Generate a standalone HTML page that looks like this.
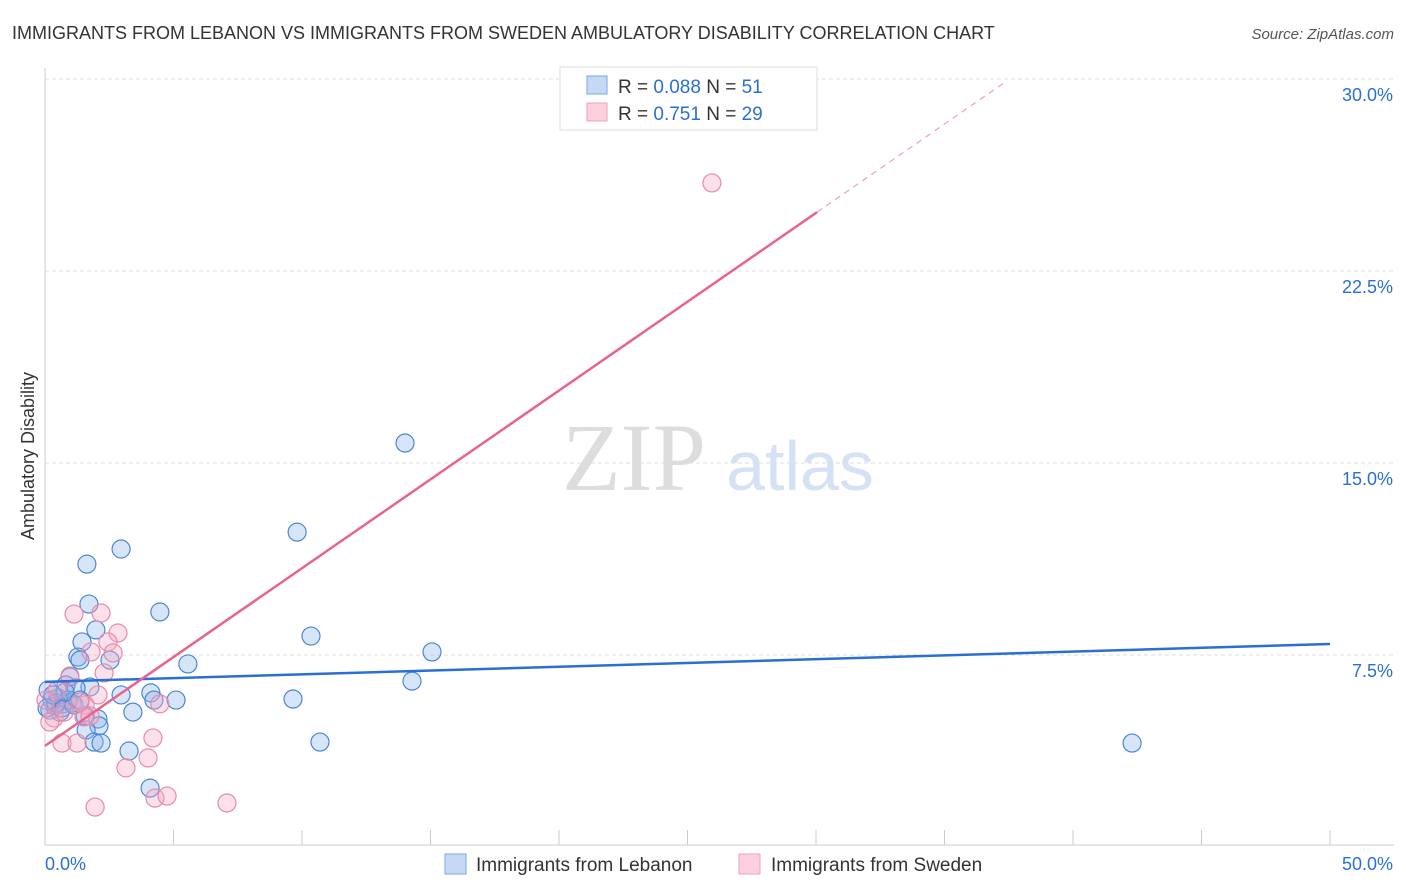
<!DOCTYPE html>
<html><head><meta charset="utf-8"><style>
body{margin:0;background:#fff;font-family:"Liberation Sans",sans-serif}
svg{display:block}
</style></head><body>
<svg id="chart" width="1406" height="892" xmlns="http://www.w3.org/2000/svg">
<text x="12" y="39" font-size="18" fill="#333">IMMIGRANTS FROM LEBANON VS IMMIGRANTS FROM SWEDEN AMBULATORY DISABILITY CORRELATION CHART</text>
<text x="1394" y="39" font-size="15" fill="#555" text-anchor="end" font-style="italic">Source: ZipAtlas.com</text>
<text x="634" y="490" font-size="96" fill="#ddd" font-family="Liberation Serif,serif" text-anchor="middle">ZIP</text>
<text x="800" y="490" font-size="70" fill="#d5e2f5" text-anchor="middle">atlas</text>
<text transform="translate(34,456) rotate(-90)" font-size="18" fill="#333" text-anchor="middle">Ambulatory Disability</text>
<g id="grid"></g><g id="axes"></g><g id="pts"></g><g id="lines"></g>
<g>
<rect x="560" y="67" width="257" height="63" fill="#fff" stroke="#ddd"/>
<rect x="587" y="76" width="20" height="18" fill="#c5d9f5" stroke="#7aa6e6"/>
<rect x="587" y="103" width="20" height="18" fill="#fbd0dc" stroke="#f0a0b8"/>
<text x="618" y="93" font-size="19" fill="#333">R = <tspan fill="#2a6fd6">0.088</tspan>    N = <tspan fill="#2a6fd6">51</tspan></text>
<text x="618" y="120" font-size="19" fill="#333">R =  <tspan fill="#2a6fd6">0.751</tspan>    N = <tspan fill="#2a6fd6">29</tspan></text>
</g>
<g>
<rect x="445" y="854" width="21" height="20" fill="#c5d9f5" stroke="#7aa6e6"/>
<text x="476" y="871" font-size="19" fill="#333">Immigrants from Lebanon</text>
<rect x="739" y="854" width="21" height="20" fill="#fbd0dc" stroke="#f0a0b8"/>
<text x="771" y="871" font-size="19" fill="#333">Immigrants from Sweden</text>
</g>
</svg>
<script>
const yTicks=[7.5,15,22.5,30];
const yTickLabels=["7.5%","15.0%","22.5%","30.0%"];
const xTickCount=10;
const xLabels=["0.0%","50.0%"];
const blueX=[2.96,1.63,1.71,4.47,1.98,1.44,1.28,1.36,2.53,5.56,0.97,0.82,1.75,2.96,4.12,4.24,5.10,3.42,2.06,2.10,1.60,1.91,2.18,3.27,4.09,0.27,0.39,0.58,0.19,0.70,1.05,0.51,0.12,1.21,14.01,9.81,10.35,15.06,14.28,9.65,10.70,42.30,0.89,0.66,1.13,1.56,0.43,0.08,0.78,0.31,1.36];
const blueY=[11.64,11.05,9.49,9.18,8.48,8.01,7.42,7.30,7.30,7.15,6.64,6.33,6.25,5.94,6.02,5.74,5.74,5.27,5.00,4.73,4.57,4.10,4.06,3.75,2.30,5.74,5.51,5.27,5.35,5.59,5.62,5.82,6.13,6.21,15.78,12.30,8.24,7.62,6.48,5.78,4.10,4.06,5.74,5.43,5.55,5.12,5.62,5.43,6.05,5.94,5.74];
const pinkX=[25.95,1.13,2.18,2.84,2.45,1.79,2.65,2.30,0.97,2.06,1.56,1.52,1.75,0.35,0.19,0.66,1.25,4.20,4.01,3.15,4.28,4.75,7.08,1.95,4.47,0.47,0.74,0.04,1.36];
const pinkY=[25.94,9.10,9.14,8.36,8.01,7.62,7.58,6.80,6.68,5.94,5.55,5.08,5.12,5.04,4.88,4.06,4.06,4.26,3.48,3.09,1.91,1.99,1.72,1.56,5.59,6.13,5.27,5.74,5.66];
const blueLine=[6.45,7.93];
const pinkLine=[3.95,0.694];
const pinkSolidEnd=30.04, pinkDashEnd=37.35;
const NS="http://www.w3.org/2000/svg";
const X0=45,X1=1330,Y0=847,PPY=192/7.5;
const sx=v=>X0+(X1-X0)*v/50, sy=v=>Y0-v*PPY;
function mk(tag,attrs,parent){const e=document.createElementNS(NS,tag);for(const k in attrs)e.setAttribute(k,attrs[k]);document.getElementById(parent).appendChild(e);return e;}
yTicks.forEach((t,i)=>{
 const g=mk('line',{x1:45,x2:1394,y1:sy(t),y2:sy(t),stroke:'#ddd','stroke-dasharray':'4,3'},'grid');
 
 
 const l=mk('text',{x:1393,y:sy(t)+22,'font-size':18,fill:'#2a6fd6','text-anchor':'end'},'grid');
 l.textContent=yTickLabels[i];
 
 
});
const ax=mk('line',{x1:45,x2:1394,y1:845,y2:845,stroke:'#ccc'},'axes');


const ay=mk('line',{x1:45,x2:45,y1:68,y2:845,stroke:'#ccc'},'axes');


for(let i=0;i<=xTickCount;i++){
 const x=sx(i*50/xTickCount);
 const t=mk('line',{x1:x,x2:x,y1:830,y2:845,stroke:'#ccc'},'axes');
 
 
}
const xl0=mk('text',{x:45,y:870,'font-size':18,fill:'#2a6fd6'},'axes');xl0.textContent=xLabels[0];


const xl1=mk('text',{x:1393,y:870,'font-size':18,fill:'#2a6fd6','text-anchor':'end'},'axes');xl1.textContent=xLabels[1];


blueX.forEach((v,i)=>{
 const c=mk('circle',{cx:sx(v),cy:sy(blueY[i]),r:9,fill:'rgba(140,180,235,0.35)',stroke:'#4a86d8','stroke-width':1.2},'pts');
 
 
});
pinkX.forEach((v,i)=>{
 const c=mk('circle',{cx:sx(v),cy:sy(pinkY[i]),r:9,fill:'rgba(245,170,195,0.35)',stroke:'#e98aa8','stroke-width':1.2},'pts');
 
 
});
const bl=mk('line',{x1:sx(0),y1:sy(blueLine[0]),x2:sx(50),y2:sy(blueLine[1]),stroke:'#2a6fd6','stroke-width':2.5},'lines');


const pf=x=>pinkLine[0]+pinkLine[1]*x;
const pl=mk('line',{x1:sx(0),y1:sy(pf(0)),x2:sx(pinkSolidEnd),y2:sy(pf(pinkSolidEnd)),stroke:'#e8638e','stroke-width':2.5},'lines');


const pd=mk('line',{x1:sx(pinkSolidEnd),y1:sy(pf(pinkSolidEnd)),x2:sx(pinkDashEnd),y2:sy(pf(pinkDashEnd)),stroke:'#f0a0b8','stroke-width':1.2,'stroke-dasharray':'6,5'},'lines');


</script>
</body></html>
